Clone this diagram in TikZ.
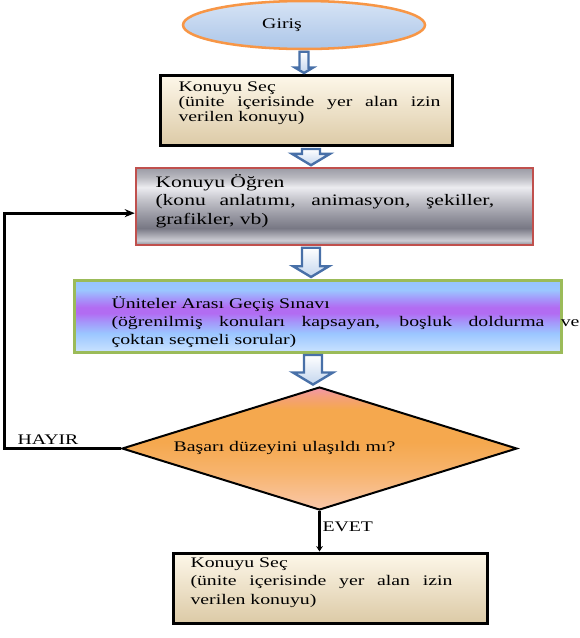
\documentclass[tikz,border=0pt]{standalone}
\usepackage{fontspec}
\setmainfont{Liberation Serif}[FakeStretch=1.35]
\usetikzlibrary{shapes.geometric,arrows.meta,calc}

\definecolor{girisline}{RGB}{247,150,70}
\definecolor{girisust}{RGB}{214,227,245}
\definecolor{girisalt}{RGB}{172,198,232}
\definecolor{okline}{RGB}{72,112,168}
\definecolor{okalt}{RGB}{196,214,238}
\definecolor{kutuust}{RGB}{253,247,233}
\definecolor{kutualt}{RGB}{220,202,166}
\definecolor{ogrenline}{RGB}{192,80,77}
\definecolor{sinavline}{RGB}{155,187,89}
\definecolor{m1}{RGB}{140,140,150}
\definecolor{m2}{RGB}{205,205,212}
\definecolor{m3}{RGB}{120,120,132}
\definecolor{m4}{RGB}{155,155,165}
\definecolor{m5}{RGB}{198,198,205}
\definecolor{m6}{RGB}{236,236,240}
\definecolor{m7}{RGB}{185,185,192}
\definecolor{s1}{RGB}{202,226,255}
\definecolor{s2}{RGB}{155,198,255}
\definecolor{s4}{RGB}{178,108,242}
\definecolor{s5}{RGB}{165,150,250}
\definecolor{s6}{RGB}{150,195,255}
\definecolor{k1}{RGB}{250,200,170}
\definecolor{k2}{RGB}{247,180,110}
\definecolor{k3}{RGB}{245,168,78}
\definecolor{k4}{RGB}{244,160,120}
\definecolor{k5}{RGB}{242,150,170}

\pgfdeclareverticalshading{metal}{100bp}{color(0bp)=(m1); color(25bp)=(m1);
  color(28bp)=(m2); color(36bp)=(m3); color(45bp)=(m4); color(55bp)=(m5);
  color(62.5bp)=(m6); color(69bp)=(m7); color(75bp)=(m4); color(100bp)=(m4)}
\pgfdeclareverticalshading{sinavfill}{100bp}{color(0bp)=(s1); color(25bp)=(s1);
  color(38bp)=(s2); color(46bp)=(s5); color(52bp)=(s4); color(56bp)=(s4);
  color(62bp)=(s5); color(68bp)=(s2); color(75bp)=(s6); color(100bp)=(s6)}
\pgfdeclareverticalshading{kararfill}{100bp}{color(0bp)=(k1); color(25bp)=(k1);
  color(40bp)=(k2); color(52.5bp)=(k3); color(66bp)=(k3); color(71bp)=(k4);
  color(75bp)=(k5); color(100bp)=(k5)}

\tikzset{every picture/.style={line width=0.75pt},
  girisbox/.style={ellipse, draw=girisline, line width=1.9pt, top color=girisust, bottom color=girisalt, inner sep=0pt},
  secbox/.style={rectangle, draw=black, line width=2.25pt, top color=kutuust, bottom color=kutualt, inner sep=0pt},
  ogrenbox/.style={rectangle, draw=ogrenline, line width=1.9pt, shading=metal, inner sep=0pt},
  sinavbox/.style={rectangle, draw=sinavline, line width=2.25pt, shading=sinavfill, inner sep=0pt},
  kararbox/.style={diamond, draw=black, line width=1.5pt, shading=kararfill, inner sep=0pt},
  blockarr/.style={draw=okline, line width=1.8pt, line join=miter, top color=white, bottom color=okalt},
  donusline/.style={draw=black, line width=2.25pt, -{Stealth[length=7.5pt,width=6pt]}},
  evetline/.style={draw=black, line width=2.25pt, -{Stealth[length=4pt,width=5pt]}},
  paratxt/.style={anchor=base west, inner sep=0pt, align=justify}
}

% hollow block arrow between two nodes
\newcommand{\blockarrow}[5]{%
  \coordinate (bt) at (#1,0 |- #2.south);
  \coordinate (bb) at (#1,0 |- #3.north);
  \draw[blockarr] ($(bt)+(-#4,1.5)$) -- ($(bb)+(-#4,-1.5-0.6*#5)$) -- ($(bb)+(-#5,-1.5-0.6*#5)$) -- ($(bb)+(0,-1.5)$)
    -- ($(bb)+(#5,-1.5-0.6*#5)$) -- ($(bb)+(#4,-1.5-0.6*#5)$) -- ($(bt)+(#4,1.5)$) -- cycle ;}

\begin{document}
\begin{tikzpicture}[x=0.75pt,y=0.75pt,yscale=-1,xscale=1]
\useasboundingbox (0,0) rectangle (579,638);

%Shape: Ellipse
\node (giris) at (304,25) [girisbox, minimum width=181.5pt, minimum height=36pt] {};
%Shape: Rectangle
\node (konusec) at (306,111) [secbox, minimum width=219pt, minimum height=52.5pt] {};
%Shape: Rectangle
\node (ogren) at (334.5,206.5) [ogrenbox, minimum width=297.75pt, minimum height=57.75pt] {};
%Shape: Rectangle
\node (sinav) at (317.5,316) [sinavbox, minimum width=365.25pt, minimum height=54pt] {};
%Shape: Diamond
\node (karar) at (319.5,448.5) [kararbox, minimum width=296.25pt, minimum height=92.25pt] {};
%Shape: Rectangle
\node (konusec2) at (330,588) [secbox, minimum width=235.5pt, minimum height=52.5pt] {};

%Block Arrows
\blockarrow{304}{giris}{konusec}{4.5}{9}
\blockarrow{311}{konusec}{ogren}{9}{19}
\blockarrow{311}{ogren}{sinav}{9}{18}
\blockarrow{313}{sinav}{karar}{9}{20}

%Straight Lines
\coordinate (donus) at (4,0 |- karar.west);
\draw [donusline] (karar.west) -- (donus) |- ([yshift=5pt]ogren.west) ;
\draw [evetline] (karar.south) -- (karar.south |- konusec2.north) ;

% Text Node
\node (giristxt) at (282,25) [inner sep=0.75pt, font=\fontsize{11}{13}\selectfont] {Giriş};
% Text Node
\node (konusectxt) at (178,92) [paratxt, text width=196.5pt, font=\fontsize{11}{11.25}\selectfont]
  {Konuyu Seç\\(ünite içerisinde yer alan izin\linebreak verilen konuyu)};
% Text Node
\node (ogrentxt) at (155,187) [paratxt, text width=254pt, font=\fontsize{12}{13.9}\selectfont]
  {Konuyu Öğren\\(konu anlatımı, animasyon, şekiller,\linebreak grafikler, vb)};
% Text Node
\node (sinavtxt) at (111,308) [paratxt, text width=351pt, font=\fontsize{11}{13.5}\selectfont]
  {Üniteler Arası Geçiş Sınavı\\(öğrenilmiş konuları kapsayan, boşluk doldurma ve\linebreak çoktan seçmeli sorular)};
% Text Node
\node (karartxt) at (284.5,448) [inner sep=0.75pt, font=\fontsize{11}{13}\selectfont] {Başarı düzeyini ulaşıldı mı?};
% Text Node
\node (hayir) at (48,440) [inner sep=0.75pt, font=\fontsize{11}{13}\selectfont] {HAYIR};
% Text Node
\node (evet) at (321,527) [anchor=west, inner sep=0.75pt, font=\fontsize{11}{13}\selectfont] {EVET};
% Text Node
\node (konusec2txt) at (190,567) [paratxt, text width=196.5pt, font=\fontsize{11}{13.9}\selectfont]
  {Konuyu Seç\\(ünite içerisinde yer alan izin\linebreak verilen konuyu)};

\end{tikzpicture}
\end{document}
